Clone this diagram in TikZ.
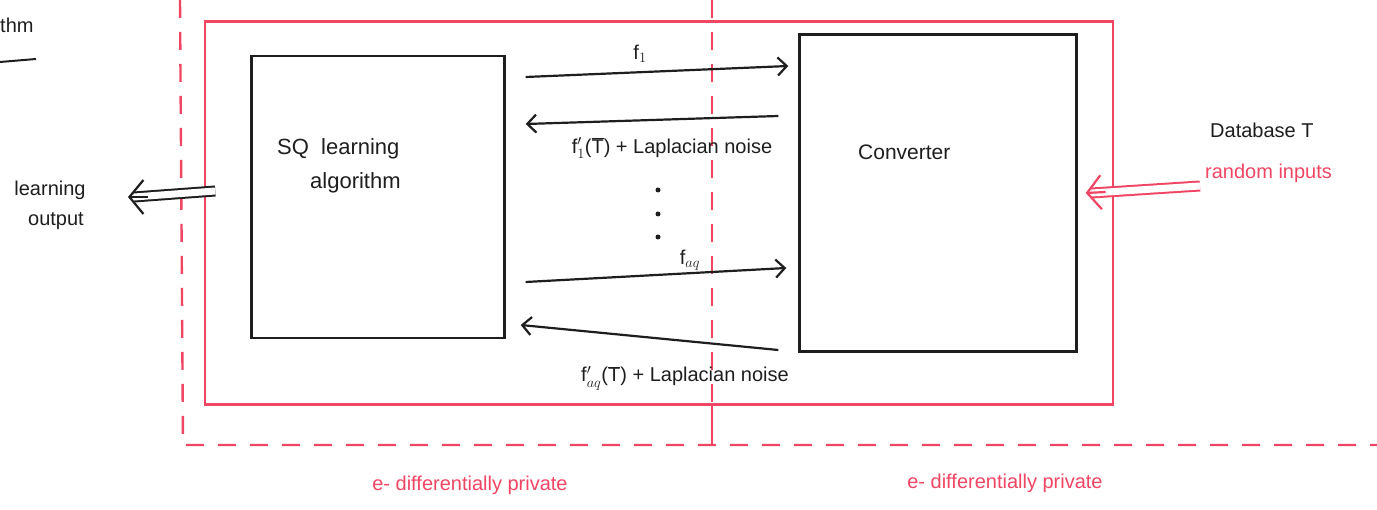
\documentclass[tikz,border=0pt]{standalone}
\usepackage{fontspec}
\setmainfont{Liberation Sans}
\usetikzlibrary{arrows.meta,calc}
\definecolor{pen}{RGB}{30,30,30}
\definecolor{redpen}{RGB}{240,70,100}
\tikzset{
  every node/.style={font=\fontsize{20}{24}\selectfont, text=pen, inner sep=0pt},
  blackbox/.style={draw=pen, line width=2.4pt, rectangle},
  redbox/.style={draw=redpen, line width=2.6pt, rectangle},
  reddash/.style={draw=redpen, line width=2.4pt, dash pattern=on 18pt off 14pt},
  redline/.style={draw=redpen, line width=2.4pt},
  arr/.style={draw=pen, line width=2.2pt, -{Straight Barb[length=9pt,width=18pt,line width=2.2pt]}},
  dblline/.style={double distance=7pt, line width=2pt},
  bigtip/.style={line width=2.2pt, -{Straight Barb[length=14pt,width=34pt,line width=2.2pt]}},
  redlabel/.style={text=redpen},
}
\begin{document}
\begin{tikzpicture}[x=1pt,y=-1pt]
\useasboundingbox (0,0) rectangle (1377,510);
% outer red dashed borders
\coordinate (ltop) at (180,0);
\coordinate (lbot) at (183,445);
\coordinate (rbot) at (1377,445);
\coordinate (dtop) at (712,0);
\draw[reddash] (ltop) -- (lbot) -- (rbot);
% inner red box
\node[redbox, minimum width=908pt, minimum height=383pt] (rb) at (659,213) {};
\draw[reddash] (dtop) -- (rb.south -| dtop);
\draw[redline] (rb.south -| dtop) -- (lbot -| dtop);
% black boxes
\node[blackbox, minimum width=253pt, minimum height=282pt] (sq) at (378,197) {};
\node[blackbox, minimum width=277pt, minimum height=317pt] (cv) at (938,193) {};
\node[anchor=north west, align=left, font=\fontsize{22}{26}\selectfont] (sqt) at (277,138) {SQ \ learning\\[8pt]\hspace*{1.5em}algorithm};
\node[anchor=west, font=\fontsize{21}{25}\selectfont] (cvt) at (858,152) {Converter};
% query / answer arrows
\coordinate (a1s) at ($(sq.east |- 0,77)+(20,0)$);
\coordinate (a1e) at ($(cv.west |- 0,66)+(-10,0)$);
\draw[arr] (a1s) -- (a1e);
\node (f1) at (640,54) {f$_1$};
\coordinate (b1s) at ($(cv.west |- 0,116)+(-20,0)$);
\coordinate (b1e) at ($(sq.east |- 0,124)+(20,0)$);
\draw[arr] (b1s) -- (b1e);
\node (f1r) at (672,148) {f$'_1$($\overline{\mbox{T}}$) + Laplacian noise};
\fill[pen] (658,190) circle (2.5pt) (658,214) circle (2.5pt) (658,237) circle (2.5pt);
\coordinate (a2s) at ($(sq.east |- 0,282)+(20,0)$);
\coordinate (a2e) at ($(cv.west |- 0,268)+(-12,0)$);
\draw[arr] (a2s) -- (a2e);
\node (fq) at (690,260) {f$_{aq}$};
\coordinate (b2s) at ($(cv.west |- 0,350)+(-20,0)$);
\coordinate (b2e) at ($(sq.east |- 0,325)+(15,0)$);
\draw[arr] (b2s) -- (b2e);
\node (fqr) at (685,378) {f$'_{aq}$($\overline{\mbox{T}}$) + Laplacian noise};
% learning output
\coordinate (los) at ($(sq.west)+(-35,-6)$);
\coordinate (loe) at (128,197);
\draw[pen, dblline] (los) -- ($(loe)+(6,0)$);
\draw[pen, bigtip] ($(loe)+(20,0)$) -- (loe);
\node[align=center] (lo) at (50,205) {learning\\[6pt]\hspace*{0.6em}output};
% random inputs
\coordinate (ris) at (1200,186);
\coordinate (rie) at ($(cv.east)+(8,0)$);
\draw[redpen, dblline] (ris) -- ($(rie)+(6,0)$);
\draw[redpen, bigtip] ($(rie)+(20,-1)$) -- (rie);
\node[anchor=west] (db) at (1210,130) {Database T};
\node[anchor=west, redlabel] (ri) at (1205,173) {random inputs};
% bottom labels
\node[redlabel] (dp1) at (470,485) {e- differentially private};
\node[redlabel] (dp2) at (1005,483) {e- differentially private};
% cut-off text at top left
\node[anchor=west] (thm) at (0,25) {thm};
\coordinate (tl1) at (0,62);
\coordinate (tl2) at (36,59);
\draw[pen, line width=2pt] (tl1) -- (tl2);
\end{tikzpicture}
\end{document}
